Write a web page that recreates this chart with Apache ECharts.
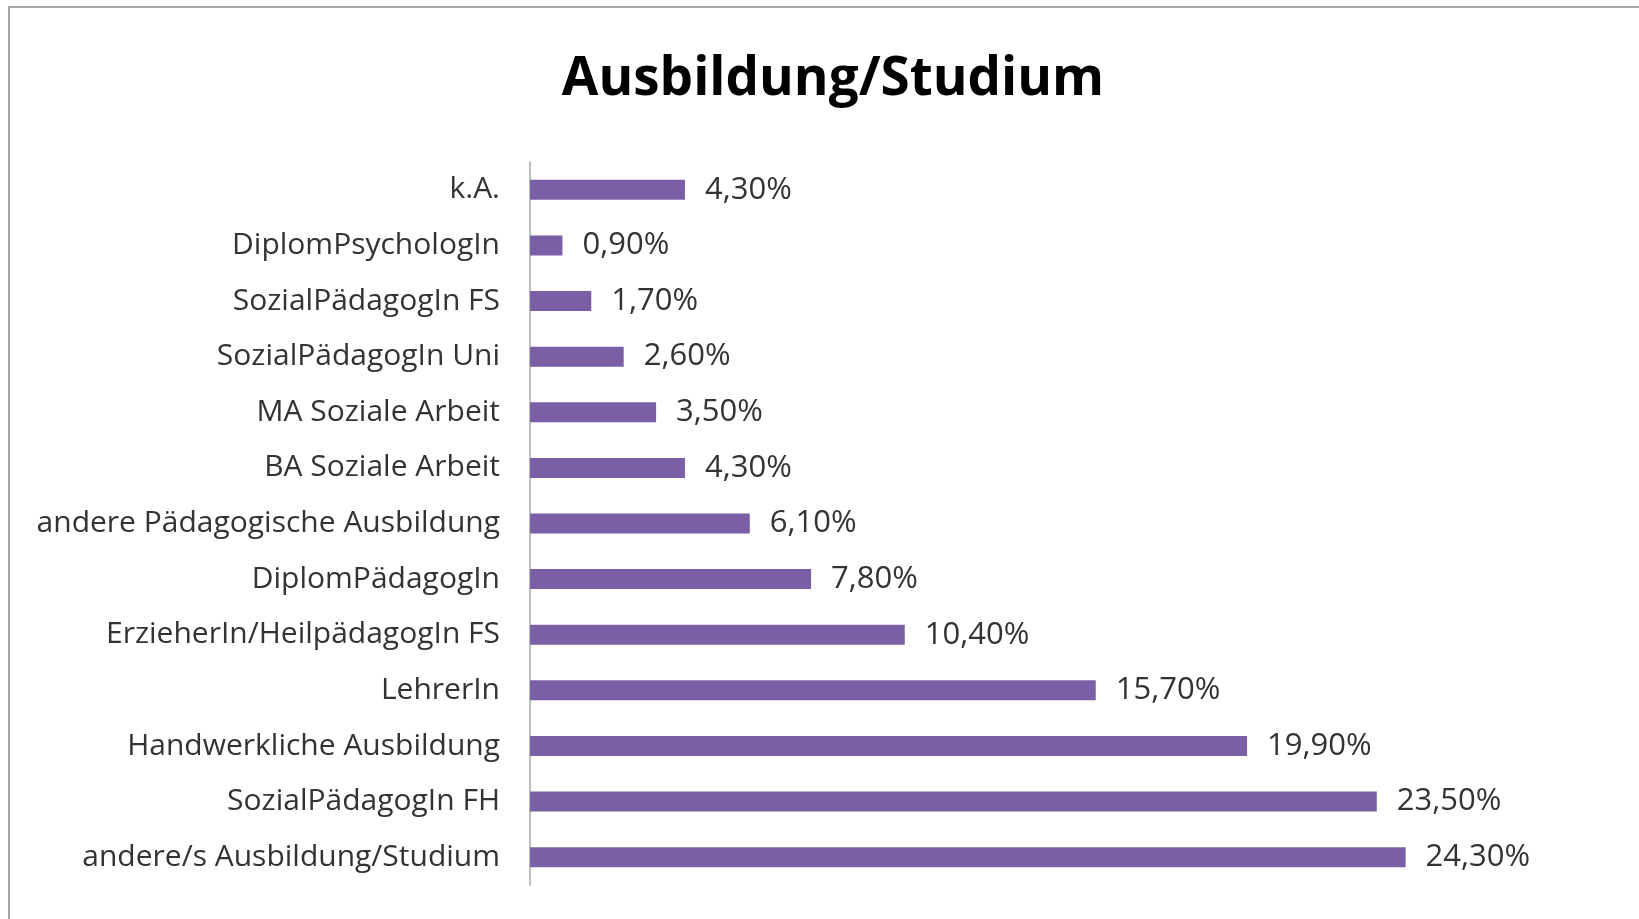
<!DOCTYPE html>
<html>
<head>
<meta charset="utf-8">
<script src="https://cdn.jsdelivr.net/npm/echarts@6/dist/echarts.min.js"></script>
<style>
  html, body { margin: 0; padding: 0; background: #fff; }
  #frame {
    position: absolute; left: 8px; top: 6px; width: 1700px; height: 1000px;
    border-top: 2px solid #a6a6a6; border-left: 2px solid #a6a6a6;
  }
  #chart { position: absolute; left: 0; top: 0; width: 1639px; height: 919px; }
</style>
</head>
<body>
<div id="frame"></div>
<div id="chart"></div>
<script>
// Kategorien von oben nach unten
var categories = [
  "k.A.", "DiplomPsychologIn", "SozialPädagogIn FS", "SozialPädagogIn Uni",
  "MA Soziale Arbeit", "BA Soziale Arbeit", "andere Pädagogische Ausbildung",
  "DiplomPädagogIn", "ErzieherIn/HeilpädagogIn FS", "LehrerIn",
  "Handwerkliche Ausbildung", "SozialPädagogIn FH", "andere/s Ausbildung/Studium"
];
var values = [4.3, 0.9, 1.7, 2.6, 3.5, 4.3, 6.1, 7.8, 10.4, 15.7, 19.9, 23.5, 24.3];

var myChart = echarts.init(document.getElementById("chart"));
var option = {
  animation: false,
  title: {
    text: "Ausbildung/Studium",
    left: 828,
    top: 48,
    textAlign: "center",
    textStyle: { fontFamily: "Open Sans", fontWeight: "bold", fontSize: 53, color: "#000" }
  },
  grid: { left: 530, top: 162, width: 1081, height: 723 },
  xAxis: {
    type: "value", min: 0, max: 30, show: false
  },
  yAxis: {
    type: "category",
    inverse: true,
    data: categories,
    axisLine: { lineStyle: { color: "#bfbfbf", width: 2 } },
    axisTick: { show: false },
    axisLabel: { margin: 30, fontFamily: "Open Sans", fontSize: 30, color: "#333" }
  },
  series: [{
    type: "bar",
    data: values,
    barWidth: 20,
    itemStyle: { color: "#7b5fa6" },
    label: {
      show: true,
      position: "right",
      distance: 20,
      fontFamily: "Open Sans",
      fontSize: 31,
      color: "#333",
      formatter: function (p) { return p.value.toFixed(2).replace(".", ",") + "%"; }
    }
  }]
};
myChart.setOption(option);
</script>
</body>
</html>
